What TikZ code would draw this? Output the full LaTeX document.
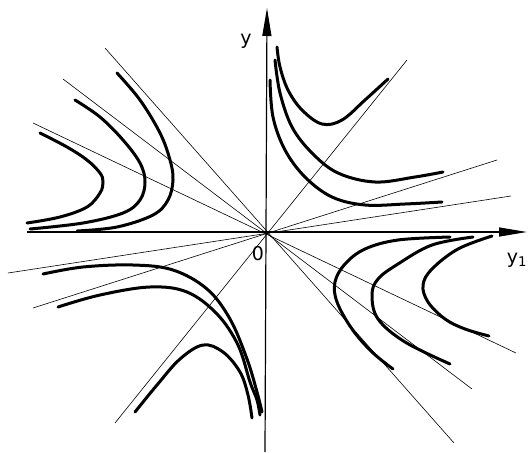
\documentclass[tikz,border=0pt]{standalone}
\usepackage{fontspec}
\setsansfont{DejaVu Sans}
\usepackage{tikz}
\usetikzlibrary{arrows.meta}

\begin{document}
\begin{tikzpicture}[
  x=1pt, y=-1pt,
  axis/.style={line width=1.2pt,-{Triangle[length=28pt,width=9pt]}},
  asym/.style={line width=0.6pt},
  traj/.style={line width=3pt,line cap=round,smooth,tension=0.6},
  lab/.style={font=\sffamily\fontsize{19}{21}\selectfont,inner sep=1pt}
]
\useasboundingbox (0,0) rectangle (529,452);
% origin and axes
\coordinate (O) at (266,232);
\coordinate (xl) at (27,232);
\coordinate (xr) at (527,232);
\coordinate (yb) at (265,452);
\coordinate (yt) at (267,8);
\draw[axis] (xl) -- (xr);
\draw[axis] (yb) -- (yt);
\node[lab] (ylab) at (246,41) {y};
\node[lab] (y1lab) at (517,260) {y\textsubscript{1}};
\node[lab] (olab) at (258,254) {0};
% lines through the origin
\coordinate (a1) at (105,48);  \coordinate (a2) at (454,443);
\coordinate (b1) at (63,79);   \coordinate (b2) at (472,389);
\coordinate (c1) at (33,123);  \coordinate (c2) at (516,353);
\coordinate (d1) at (407,60);  \coordinate (d2) at (115,423);
\coordinate (e1) at (497,160); \coordinate (e2) at (33,308);
\coordinate (f1) at (511,196); \coordinate (f2) at (8,273);
\foreach \l in {a,b,c,d,e,f}
  \draw[asym] (\l1) -- (\l2);
% upper left
\draw[traj] plot coordinates {(40,133) (67,147) (87,160) (100,173) (103,182) (100,193) (87,207) (60,217) (27,223)};
\draw[traj] plot coordinates {(75,100) (100,117) (123,140) (140,163) (145,182) (140,200) (123,213) (83,223) (30,229)};
\draw[traj] plot coordinates {(117,73) (140,100) (160,133) (170,160) (173,180) (168,200) (153,215) (117,227) (77,231)};
% upper right
\draw[traj] plot coordinates {(277,47) (280,67) (288,90) (302,110) (322,124) (342,120) (365,100) (388,79)};
\draw[traj] plot coordinates {(275,60) (280,93) (292,127) (312,153) (338,173) (375,182) (415,177) (443,172)};
\draw[traj] plot coordinates {(270,80) (273,117) (285,150) (305,177) (332,197) (365,205) (405,204) (442,202)};
% lower left
\draw[traj] plot coordinates {(43,274) (83,267) (133,265) (173,270) (207,289) (230,319) (247,359) (257,392) (262,412)};
\draw[traj] plot coordinates {(58,307) (100,295) (150,287) (187,292) (217,314) (238,345) (250,382) (257,400) (260,415)};
\draw[traj] plot coordinates {(135,412) (157,385) (180,359) (203,345) (223,352) (240,372) (248,395) (252,418)};
% lower right
\draw[traj] plot coordinates {(450,237) (398,240) (365,249) (345,264) (335,282) (337,302) (352,329) (372,352) (393,369)};
\draw[traj] plot coordinates {(473,237) (432,245) (398,264) (378,279) (372,295) (378,319) (405,342) (450,364)};
\draw[traj] plot coordinates {(492,236) (458,249) (432,269) (423,285) (428,302) (445,319) (465,329) (489,336)};
\end{tikzpicture}
\end{document}
